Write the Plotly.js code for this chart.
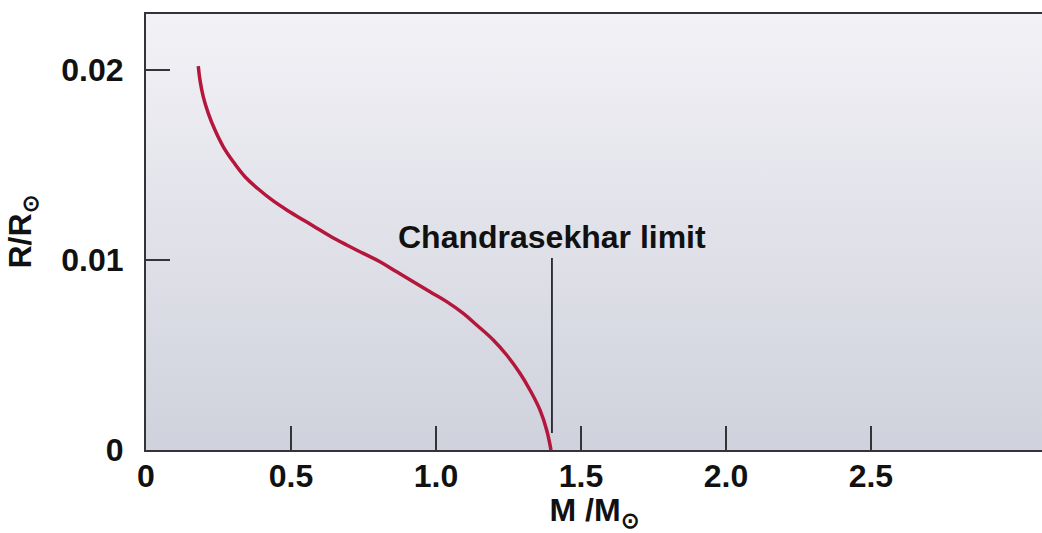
<!DOCTYPE html>
<html>
<head>
<meta charset="utf-8">
<script src="https://cdn.plot.ly/plotly-3.0.1.min.js"></script>
<style>html,body{margin:0;padding:0;background:#fff;}#chart{width:1042px;height:533px;}</style>
</head>
<body>
<div id="chart"></div>
<script>
// Mass-radius relation for white dwarfs
const massValues = [0.1803, 0.1862, 0.1976, 0.2148, 0.2379, 0.2666, 0.3010, 0.3414, 0.3872, 0.4390, 0.4966, 0.5769, 0.6345, 0.6921, 0.7493, 0.8069, 0.8645, 0.9217, 0.9793, 1.0369, 1.0941, 1.1403, 1.1976, 1.2438, 1.2897, 1.3241, 1.3586, 1.3817, 1.3966];
const radiusValues = [0.02021, 0.01947, 0.01859, 0.01772, 0.01684, 0.01596, 0.01517, 0.01438, 0.01374, 0.01311, 0.01253, 0.01179, 0.01126, 0.01079, 0.01035, 0.00991, 0.00938, 0.00886, 0.00833, 0.00781, 0.00719, 0.00658, 0.00579, 0.00500, 0.00404, 0.00316, 0.00211, 0.00105, 0.0];
const chandraMass = [1.4, 1.4];
const chandraSpan = [0.0009, 0.0101];
const xTickVals = [0, 0.5, 1.0, 1.5, 2.0, 2.5];
const xTickText = ['0', '0.5', '1.0', '1.5', '2.0', '2.5'];
const yTickVals = [0, 0.01, 0.02];
const yTickText = ['0', '0.01', '0.02'];
const limitLabel = 'Chandrasekhar limit';

const FONT = 'Liberation Sans, Arial, Helvetica, sans-serif';
const FS = 32;

const grad = 'data:image/svg+xml;base64,' + btoa(
  '<svg xmlns="http://www.w3.org/2000/svg" width="100" height="100" preserveAspectRatio="none">' +
  '<defs><linearGradient id="g" x1="0" y1="0" x2="0" y2="1">' +
  '<stop offset="0" stop-color="#f2f2f6"/><stop offset="1" stop-color="#cfd1dc"/>' +
  '</linearGradient></defs><rect width="100" height="100" fill="url(#g)"/></svg>');

const traces = [
  {
    x: massValues, y: radiusValues, type: 'scatter', mode: 'lines',
    line: {color: '#b5173c', width: 3.5, shape: 'spline', smoothing: 1.15},
    hoverinfo: 'skip', showlegend: false
  },
  {
    x: chandraMass, y: chandraSpan, type: 'scatter', mode: 'lines',
    line: {color: '#24242c', width: 1.8},
    hoverinfo: 'skip', showlegend: false
  }
];

const layout = {
  width: 1042, height: 533,
  margin: {l: 146, r: 0, t: 14, b: 83},
  paper_bgcolor: '#ffffff',
  plot_bgcolor: 'rgba(0,0,0,0)',
  showlegend: false,
  font: {family: FONT, color: '#111111'},
  images: [{
    source: grad, xref: 'paper', yref: 'paper', x: 0, y: 1, sizex: 1, sizey: 1,
    sizing: 'stretch', xanchor: 'left', yanchor: 'top', layer: 'below'
  }],
  xaxis: {
    range: [0, 3.09], showgrid: false, zeroline: false,
    showline: true, linecolor: '#333338', linewidth: 2, mirror: true,
    ticks: 'inside', ticklen: 24, tickwidth: 2, tickcolor: '#333338',
    tickvals: xTickVals, ticktext: xTickText,
    tickfont: {family: FONT, size: FS, weight: 700, color: '#111'},
    ticklabelstandoff: -3,
    title: {text: 'M /M<sub>⊙</sub>', font: {family: FONT, size: FS, weight: 700, color: '#111'}, standoff: 11}
  },
  yaxis: {
    range: [0, 0.02295], showgrid: false, zeroline: false,
    showline: true, linecolor: '#333338', linewidth: 2,
    ticks: 'inside', ticklen: 24, tickwidth: 2, tickcolor: '#333338',
    tickvals: yTickVals, ticktext: yTickText,
    tickfont: {family: FONT, size: FS, weight: 700, color: '#111'},
    ticklabelstandoff: 14,
    title: {text: 'R/R<sub>⊙</sub>', font: {family: FONT, size: FS, weight: 700, color: '#111'}, standoff: 20}
  },
  annotations: [{
    x: chandraMass[0], y: 0.0112, xref: 'x', yref: 'y', text: limitLabel,
    showarrow: false, xanchor: 'center', yanchor: 'middle',
    font: {family: FONT, size: FS, weight: 700, color: '#111'}
  }]
};

Plotly.newPlot('chart', traces, layout, {displayModeBar: false, staticPlot: true});
</script>
</body>
</html>
